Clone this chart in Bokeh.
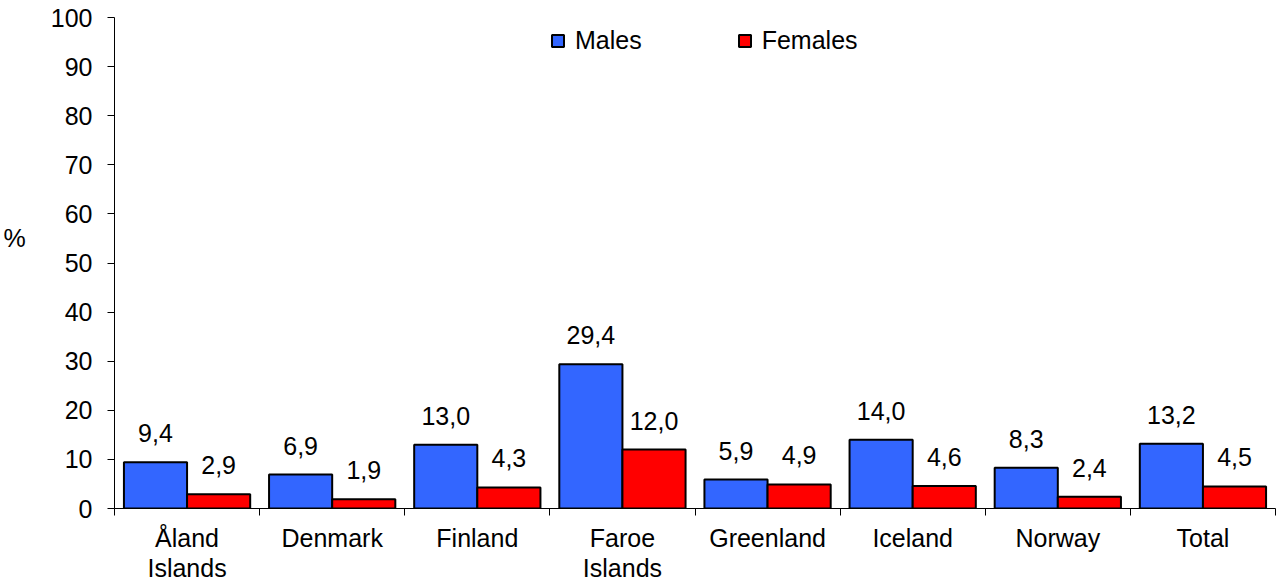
from bokeh.plotting import figure
from bokeh.models import Range1d, FixedTicker, ColumnDataSource, Legend, LegendItem
from bokeh.transform import dodge
from bokeh.core.properties import value
from bokeh.embed import file_html
from bokeh.resources import INLINE

categories = ["Åland\nIslands", "Denmark", "Finland", "Faroe\nIslands",
              "Greenland", "Iceland", "Norway", "Total"]
males = [9.4, 6.9, 13.0, 29.4, 5.9, 14.0, 8.3, 13.2]
females = [2.9, 1.9, 4.3, 12.0, 4.9, 4.6, 2.4, 4.5]
y_ticks = list(range(0, 101, 10))
y_label = "%"

FONT = "Liberation Sans"
FS = "25px"
BLUE = "#3366FF"
RED = "#FF0000"
BW = 0.435

x = [i + 0.5 for i in range(len(categories))]


def fmt(v):
    return f"{v:.1f}".replace(".", ",")


src = ColumnDataSource(dict(x=x, m=males, f=females,
                            ml=[fmt(v) for v in males],
                            fl=[fmt(v) for v in females]))

p = figure(width=1277, height=584,
           x_range=Range1d(0, len(categories)), y_range=Range1d(0, 100),
           output_backend="svg", toolbar_location=None,
           min_border_left=112, min_border_right=2,
           min_border_top=17, min_border_bottom=75)

p.xgrid.visible = False
p.ygrid.visible = False
p.outline_line_color = None
p.background_fill_color = "white"
p.border_fill_color = "white"

# x axis: labels at centres, tick marks at category boundaries (minor ticks)
p.xaxis.ticker = FixedTicker(ticks=x, minor_ticks=list(range(len(categories) + 1)))
p.xaxis.major_label_overrides = {xi: c for xi, c in zip(x, categories)}
p.xaxis.major_tick_line_color = None
p.xaxis.minor_tick_out = 7
p.xaxis.minor_tick_in = 0
p.xaxis.minor_tick_line_color = "black"
p.xaxis.axis_line_color = "black"
p.xaxis.major_label_text_font = FONT
p.xaxis.major_label_text_font_size = FS
p.xaxis.major_label_text_color = "black"
p.xaxis.major_label_text_line_height = 1.08
p.xaxis.major_label_standoff = 8

p.yaxis.ticker = FixedTicker(ticks=y_ticks)
p.yaxis.major_tick_out = 7
p.yaxis.major_tick_in = 0
p.yaxis.minor_tick_line_color = None
p.yaxis.axis_line_color = "black"
p.yaxis.major_tick_line_color = "black"
p.yaxis.major_label_text_font = FONT
p.yaxis.major_label_text_font_size = FS
p.yaxis.major_label_text_color = "black"
p.yaxis.major_label_standoff = 15
# "%" title: horizontal; a blank second line lifts it a little above centre
p.yaxis.axis_label = y_label + "\n"
p.yaxis.axis_label_orientation = "horizontal"
p.yaxis.axis_label_text_font = FONT
p.yaxis.axis_label_text_font_size = FS
p.yaxis.axis_label_text_font_style = "normal"
p.yaxis.axis_label_text_color = "black"
p.yaxis.axis_label_text_line_height = 1.8
p.yaxis.axis_label_standoff = 22

r1 = p.vbar(x=dodge("x", -BW / 2), top="m", width=BW, source=src,
            fill_color=BLUE, line_color="black", line_width=2)
r2 = p.vbar(x=dodge("x", BW / 2), top="f", width=BW, source=src,
            fill_color=RED, line_color="black", line_width=2)

p.text(x=dodge("x", -BW / 2), y="m", text="ml", source=src,
       text_align="center", text_baseline="alphabetic", y_offset=-29,
       text_font=value(FONT), text_font_size=FS, text_color="black")
p.text(x=dodge("x", BW / 2), y="f", text="fl", source=src,
       text_align="center", text_baseline="alphabetic", y_offset=-29,
       text_font=value(FONT), text_font_size=FS, text_color="black")

legend = Legend(items=[LegendItem(label="Males", renderers=[r1]),
                       LegendItem(label="Females", renderers=[r2])],
                orientation="horizontal", location=(436, 453),
                glyph_width=15, glyph_height=15, label_standoff=10,
                spacing=95, padding=0, margin=0,
                border_line_color=None, background_fill_alpha=0,
                label_text_font=FONT, label_text_font_size=FS,
                label_text_color="black")
p.add_layout(legend)

open("out.html", "w").write(file_html(p, INLINE))
